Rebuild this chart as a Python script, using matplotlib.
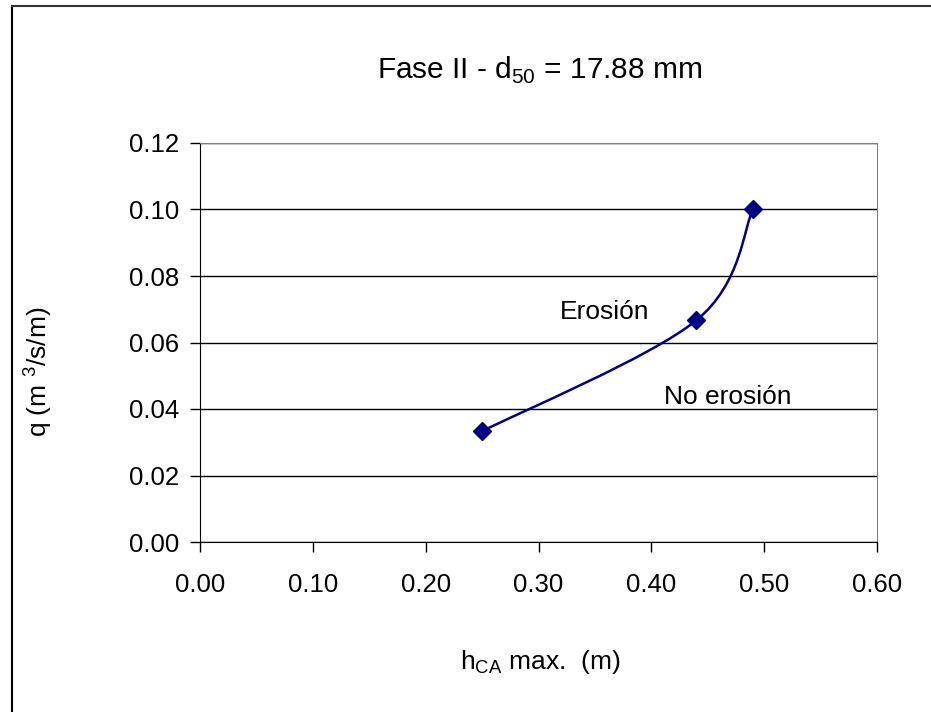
import matplotlib
matplotlib.use("Agg")
import matplotlib.pyplot as plt
from matplotlib.path import Path
from matplotlib.patches import PathPatch
import numpy as np

h_max = [0.25, 0.44, 0.49]
q = [0.0333, 0.0667, 0.1000]
x_ticks = [0.00, 0.10, 0.20, 0.30, 0.40, 0.50, 0.60]
y_ticks = [0.00, 0.02, 0.04, 0.06, 0.08, 0.10, 0.12]

plt.rcParams['font.family'] = ['Liberation Sans', 'DejaVu Sans']
navy = '#000080'

fig = plt.figure(figsize=(9.31, 7.12), dpi=100)
ax = fig.add_axes([200 / 931, 1 - 542 / 712, 677 / 931, 399 / 712])

# border of the chart area (only left and top visible)
fig.add_artist(plt.Line2D([12 / 931, 12 / 931], [0, 1 - 6 / 712], transform=fig.transFigure, color='black', lw=1.5))
fig.add_artist(plt.Line2D([12 / 931, 1], [1 - 6 / 712, 1 - 6 / 712], transform=fig.transFigure, color='#333333', lw=1.5))

# smoothed line like a spreadsheet chart (Bezier through the points)
pts = np.column_stack([h_max, q])
ext = np.vstack([pts[0], pts, pts[-1]])
verts = [tuple(pts[0])]
codes = [Path.MOVETO]
for i in range(len(pts) - 1):
    p0, p1, p2, p3 = ext[i], ext[i + 1], ext[i + 2], ext[i + 3]
    verts += [tuple(p1 + (p2 - p0) / 6), tuple(p2 - (p3 - p1) / 6), tuple(p2)]
    codes += [Path.CURVE4] * 3
ax.add_patch(PathPatch(Path(verts, codes), fill=False, edgecolor=navy, lw=1.8, zorder=3))
ax.plot(h_max, q, linestyle='none', marker='D', markersize=9, color=navy, zorder=4)

ax.set_xlim(0, 0.6)
ax.set_ylim(0, 0.12)
ax.set_xticks(x_ticks)
ax.set_yticks(y_ticks)
ax.set_xticklabels([f'{v:.2f}' for v in x_ticks])
ax.set_yticklabels([f'{v:.2f}' for v in y_ticks])
ax.tick_params(labelsize=18.5, length=7, width=1, direction='out', colors='black')
ax.tick_params(axis='x', pad=15)
ax.tick_params(axis='y', pad=8)
ax.yaxis.grid(True, color='black', lw=1)
ax.set_axisbelow(True)
for s in ['top', 'right']:
    ax.spines[s].set_color('#808080')
for s in ['left', 'bottom']:
    ax.spines[s].set_color('black')

ax.text(0.359, 0.0692, 'Erosión', fontsize=19, ha='center', va='center')
ax.text(0.468, 0.0436, 'No erosión', fontsize=19, ha='center', va='center')

fig.text(540 / 931, 1 - 70 / 712, r'Fase II - d$_{\mathregular{50}}$ = 17.88 mm', fontsize=21.5, ha='center', va='center')
fig.text(540 / 931, 1 - 662 / 712, r'h$_{\mathregular{CA}}$ max.  (m)', fontsize=19, ha='center', va='center')
fig.text(38 / 931, 1 - 372 / 712, r'q (m $^{\mathregular{3}}$/s/m)', fontsize=19, ha='center', va='center', rotation=90)

fig.savefig('out.png', dpi=100)
